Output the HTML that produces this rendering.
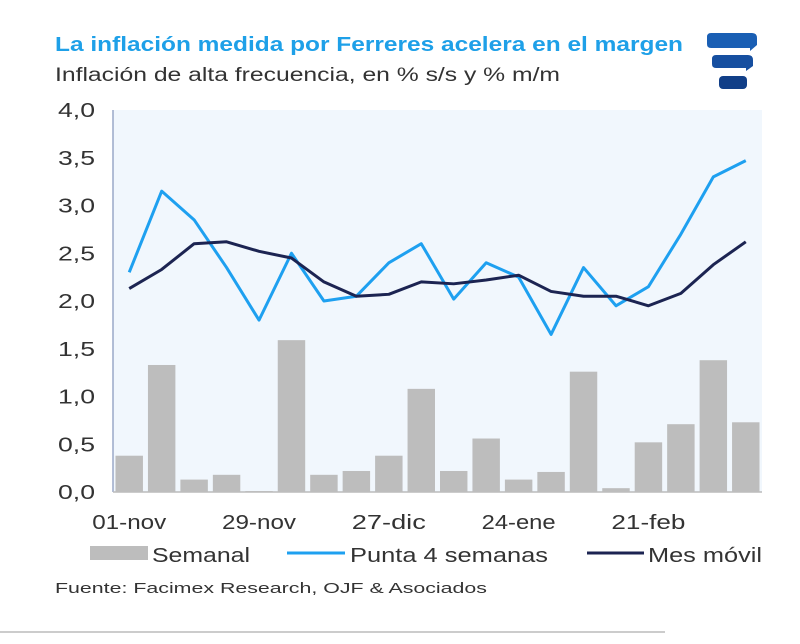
<!DOCTYPE html>
<html><head><meta charset="utf-8"><style>
body{margin:0;width:800px;height:639px;background:#fff;overflow:hidden;font-family:"Liberation Sans",sans-serif}
</style></head><body>
<svg width="800" height="639" id="svg">
<text x="55" y="51" font-size="20" font-weight="bold" fill="#1ea0e8" textLength="628" lengthAdjust="spacingAndGlyphs">La inflación medida por Ferreres acelera en el margen</text>
<text x="55" y="81" font-size="19" fill="#333" textLength="505" lengthAdjust="spacingAndGlyphs">Inflación de alta frecuencia, en % s/s y % m/m</text>
<g>
<path d="M711 33 H752 Q757 33 757 38 V45 L750 51 V48 H711 Q707 48 707 44 V37 Q707 33 711 33Z" fill="#1a5fb4"/>
<path d="M716 55 H748 Q753 55 753 60 V66 L746 71 V68 H716 Q712 68 712 64 V59 Q712 55 716 55Z" fill="#164fa0"/>
<rect x="719" y="76" width="28" height="13" rx="4" fill="#113f88"/>
</g>
<rect x="113" y="110" width="649" height="382" fill="#f1f7fd"/>
<line x1="113" y1="110" x2="113" y2="492" stroke="#9aa8c8" stroke-width="1.5"/>
<line x1="113" y1="492" x2="762" y2="492" stroke="#bbb" stroke-width="1.5"/>
<g id="bars"></g><g id="lines"></g><g id="yt"></g><g id="xt"></g>
<g font-size="20" fill="#333">
<rect x="90" y="546" width="58" height="14" fill="#bdbdbd"/>
<text x="152" y="562" textLength="98" lengthAdjust="spacingAndGlyphs">Semanal</text>
<line x1="287" y1="553" x2="345" y2="553" stroke="#1ea0f0" stroke-width="3"/>
<text x="350" y="562" textLength="198" lengthAdjust="spacingAndGlyphs">Punta 4 semanas</text>
<line x1="587" y1="553" x2="644" y2="553" stroke="#1c2452" stroke-width="3"/>
<text x="648" y="562" textLength="114" lengthAdjust="spacingAndGlyphs">Mes móvil</text>
</g>
<text x="55" y="593" font-size="15" fill="#333" textLength="432" lengthAdjust="spacingAndGlyphs">Fuente: Facimex Research, OJF &amp; Asociados</text>
<line x1="0" y1="632" x2="665" y2="632" stroke="#ccc" stroke-width="2"/>
</svg>
<script>
const categories=["01-nov","08-nov","15-nov","22-nov","29-nov","06-dic","13-dic","20-dic","27-dic","03-ene","10-ene","17-ene","24-ene","31-ene","07-feb","14-feb","21-feb","28-feb","07-mar","14-mar"];
const semanal=[0.38,1.33,0.13,0.18,0.01,1.59,0.18,0.22,0.38,1.08,0.22,0.56,0.13,0.21,1.26,0.04,0.52,0.71,1.38,0.73];
const punta=[2.3,3.15,2.85,2.35,1.8,2.5,2.0,2.05,2.4,2.6,2.02,2.4,2.25,1.65,2.35,1.95,2.15,2.7,3.3,3.47];
const mesMovil=[2.13,2.33,2.6,2.62,2.52,2.45,2.2,2.05,2.07,2.2,2.18,2.22,2.27,2.1,2.05,2.05,1.95,2.08,2.38,2.62];
const yTicks=[0,0.5,1,1.5,2,2.5,3,3.5,4];
const xTickIdx=[0,4,8,12,16];
const xTickLabels=["01-nov","29-nov","27-dic","24-ene","21-feb"];
const NS="http://www.w3.org/2000/svg";
const x0=113,x1=762,y0=492,yTop=110,bw=(x1-x0)/categories.length;
const y=v=>y0-(v/4)*(y0-yTop);
const xc=i=>x0+bw*(i+0.5);
function mk(t,a,p){const e=document.createElementNS(NS,t);for(const k in a)e.setAttribute(k,a[k]);document.getElementById(p).appendChild(e);return e;}
semanal.forEach((v,i)=>{const r=mk('rect',{x:x0+bw*i+2.5,y:y(v),width:bw-5,height:y0-y(v),fill:'#bdbdbd'},'bars');

});
[[punta,'#1ea0f0','line-punta-4-semanas'],[mesMovil,'#1c2452','line-mes-movil']].forEach(([d,c,n])=>{
const p=mk('polyline',{points:d.map((v,i)=>xc(i)+','+y(v)).join(' '),fill:'none',stroke:c,'stroke-width':3,'stroke-linejoin':'round'},'lines');

});
yTicks.forEach(v=>{const t=mk('text',{x:95,y:y(v)+7,'text-anchor':'end','font-size':20,fill:'#333',textLength:37,lengthAdjust:'spacingAndGlyphs'},'yt');t.textContent=v.toFixed(1).replace('.',',');

});
xTickIdx.forEach((idx,k)=>{const t=mk('text',{x:xc(idx),y:529,'text-anchor':'middle','font-size':20,fill:'#333',textLength:74,lengthAdjust:'spacingAndGlyphs'},'xt');t.textContent=xTickLabels[k];

});
</script>
</body></html>
